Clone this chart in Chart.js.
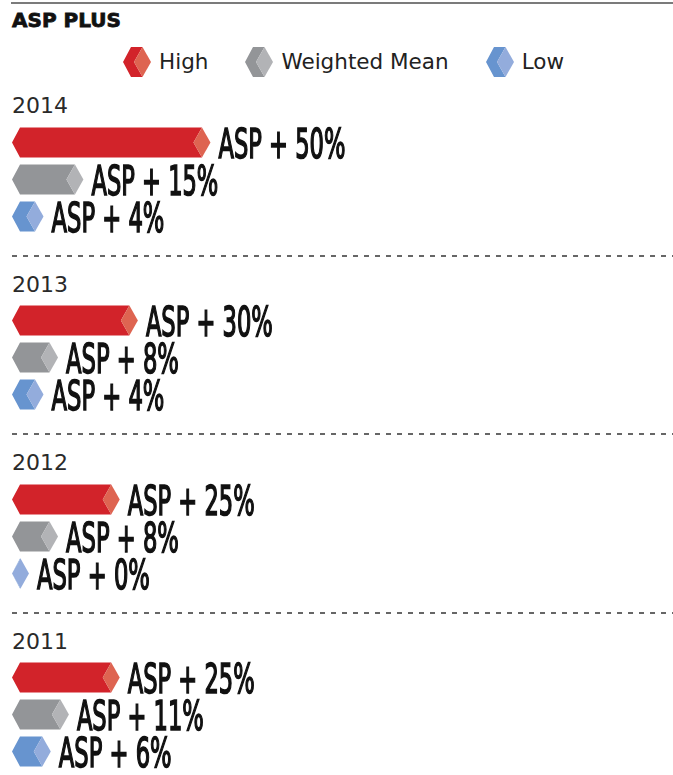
<!DOCTYPE html>
<html>
<head>
<meta charset="utf-8">
<script src="https://cdn.jsdelivr.net/npm/chart.js"></script>
<style>
  body { margin: 0; background: #fff; }
  #page { position: relative; width: 673px; height: 775px; overflow: hidden; }
  .rule { position: absolute; left: 11px; right: 0; top: 2px; height: 2px; background: #7b7b7b; }
  .title { position: absolute; left: 12px; top: 10px; font: bold 20px/20px "DejaVu Sans"; color: #111; -webkit-text-stroke: 0.8px #111; }
  .legend { position: absolute; left: 123px; top: 47px; height: 30px; display: flex; align-items: center; }
  .legend .item { display: flex; align-items: center; margin-right: 37px; }
  .legend span { font: 21.5px/30px "DejaVu Sans"; color: #222; margin-left: 8px; }
  .year { position: absolute; left: 12px; font: 22px/22px "DejaVu Sans"; color: #2a2a2a; }
  .dash { position: absolute; left: 12px; right: 0; height: 2px;
          background: repeating-linear-gradient(to right, #666 0 5px, transparent 5px 11px); }
</style>
</head>
<body>
<div id="page">
  <div class="rule"></div>
  <div class="title">ASP PLUS</div>
  <div class="legend" id="legend"></div>
</div>
<script>
// values (% above ASP)
const years = ['2014', '2013', '2012', '2011'];
const seriesNames = ['High', 'Weighted Mean', 'Low'];
const highValues = [50, 30, 25, 25];
const meanValues = [15, 8, 8, 11];
const lowValues = [4, 4, 0, 6];

const bodyColors = ['#d2232a', '#939598', '#6794cf'];
const capColors = ['#de6451', '#b2b3b6', '#93acdc'];

const TIP = 8;   // left point of the bar
const CAP = 17;  // width of the end diamond

function drawHex(ctx, x0, end, top, bot, body, cap) {
  const mid = (top + bot) / 2;
  if (end - CAP / 2 > x0 + TIP) {
    ctx.fillStyle = body;
    ctx.beginPath();
    ctx.moveTo(x0, mid);
    ctx.lineTo(x0 + TIP, top);
    ctx.lineTo(end - CAP / 2, top);
    ctx.lineTo(end - CAP, mid);
    ctx.lineTo(end - CAP / 2, bot);
    ctx.lineTo(x0 + TIP, bot);
    ctx.closePath();
    ctx.fill();
  }
  ctx.fillStyle = cap;
  ctx.beginPath();
  ctx.moveTo(end - CAP, mid);
  ctx.lineTo(end - CAP / 2, top);
  ctx.lineTo(end, mid);
  ctx.lineTo(end - CAP / 2, bot);
  ctx.closePath();
  ctx.fill();
}

// legend
const legend = document.getElementById('legend');
seriesNames.forEach((name, j) => {
  const item = document.createElement('div');
  item.className = 'item';
  const c = document.createElement('canvas');
  c.width = 28; c.height = 30;
  drawHex(c.getContext('2d'), 0, 28, 0, 30, bodyColors[j], capColors[j]);
  const s = document.createElement('span');
  s.textContent = name;
  item.appendChild(c);
  item.appendChild(s);
  legend.appendChild(item);
});

const hexBars = {
  id: 'hexBars',
  beforeDatasetsDraw(chart) {
    const ctx = chart.ctx;
    const ds = chart.data.datasets[0];
    chart.getDatasetMeta(0).data.forEach((bar, j) => {
      const p = bar.getProps(['x', 'y', 'base', 'height'], true);
      const top = p.y - p.height / 2, bot = p.y + p.height / 2;
      drawHex(ctx, p.base - CAP, p.x, top, bot, bodyColors[j], capColors[j]);
      const txt = 'ASP + ' + ds.data[j] + '%';
      ctx.save();
      ctx.font = '41px "DejaVu Sans Condensed", "DejaVu Sans"';
      // squeeze to the narrow face of the original
      const sx = (txt.length * 14.1) / ctx.measureText(txt).width;
      ctx.translate(p.x + 8, p.y + p.height / 2);
      ctx.scale(sx, 1);
      ctx.fillStyle = '#111';
      ctx.strokeStyle = '#111';
      ctx.lineWidth = 1.6;
      ctx.textBaseline = 'alphabetic';
      ctx.fillText(txt, 0, 0);
      ctx.strokeText(txt, 0, 0);
      ctx.restore();
    });
    return false;
  }
};

const page = document.getElementById('page');
years.forEach((year, i) => {
  const top = 77 + 178.5 * i;
  if (i > 0) {
    const d = document.createElement('div');
    d.className = 'dash';
    d.style.top = (top - 1) + 'px';
    page.appendChild(d);
  }
  const y = document.createElement('div');
  y.className = 'year';
  y.style.top = (top + 18.4) + 'px';
  y.textContent = year;
  page.appendChild(y);

  const cv = document.createElement('canvas');
  cv.width = 673; cv.height = 111;
  cv.style.position = 'absolute';
  cv.style.left = '0px';
  cv.style.top = (top + 46.5) + 'px';
  page.appendChild(cv);

  new Chart(cv, {
    type: 'bar',
    data: {
      labels: seriesNames,
      datasets: [{
        label: year,
        data: [highValues[i], meanValues[i], lowValues[i]],
        backgroundColor: bodyColors,
        barPercentage: 30 / 37,
        categoryPercentage: 1
      }]
    },
    options: {
      indexAxis: 'y',
      responsive: false,
      animation: false,
      events: [],
      layout: { padding: { left: 29, right: 27, top: 0, bottom: 0 } },
      scales: {
        x: { display: false, min: 0, max: 170 },
        y: { display: false }
      },
      plugins: { legend: { display: false }, tooltip: { enabled: false } }
    },
    plugins: [hexBars]
  });
});
</script>
</body>
</html>
